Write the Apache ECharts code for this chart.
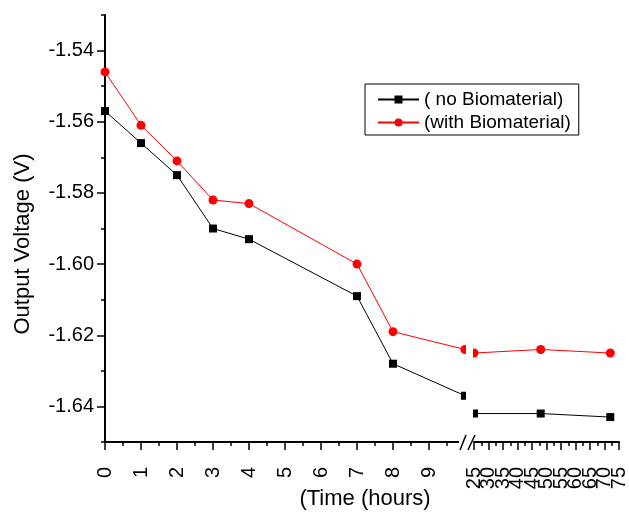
<!DOCTYPE html>
<html>
<head>
<meta charset="utf-8">
<script src="https://cdn.jsdelivr.net/npm/echarts@6/dist/echarts.min.js"></script>
<style>
  html, body { margin: 0; padding: 0; background: #fff; }
  #chart { width: 629px; height: 512px; }
</style>
</head>
<body>
<div id="chart"></div>
<script>
// hours before the axis break and after it
var hoursShort = [0, 1, 2, 3, 4, 7, 8, 10];
var hoursLong = [25, 48, 72];

// output voltage (V)
var noBioShort = [-1.557, -1.566, -1.575, -1.590, -1.593, -1.609, -1.628, -1.637];
var noBioLong = [-1.642, -1.642, -1.643];
var withBioShort = [-1.546, -1.561, -1.571, -1.582, -1.583, -1.600, -1.619, -1.624];
var withBioLong = [-1.625, -1.624, -1.625];

var seriesNames = ['( no Biomaterial)', '(with Biomaterial)'];

// tick positions
var hourTicks = [0, 1, 2, 3, 4, 5, 6, 7, 8, 9];
var hourMinorTicks = [0.5, 1.5, 2.5, 3.5, 4.5, 5.5, 6.5, 7.5, 8.5, 9.5];
// long-hour labels sit very close together, so they are drawn in two alternating sets
var longHourLabelsA = [25, 35, 45, 55, 65, 75];
var longHourLabelsB = [30, 40, 50, 60, 70];
var voltTicks = [-1.64, -1.62, -1.60, -1.58, -1.56, -1.54];
var voltMinorTicks = [-1.65, -1.63, -1.61, -1.59, -1.57, -1.55, -1.53];

function pairs(xs, ys) {
  return xs.map(function (x, i) { return [x, ys[i]]; });
}

var chart = echarts.init(document.getElementById('chart'));

var axisLine = { show: true, lineStyle: { color: '#000', width: 2 } };
var labelStyle = { color: '#000', fontSize: 20, fontFamily: 'Liberation Sans, Arial, sans-serif' };

chart.setOption({
  animation: false,
  backgroundColor: '#fff',
  grid: [
    { left: 105, top: 15, width: 360, height: 427 },
    { left: 474, top: 15, width: 148, height: 427 }
  ],
  legend: {
    data: seriesNames,
    orient: 'vertical',
    left: 365,
    top: 84,
    padding: [6, 8, 3, 12],
    itemGap: 4,
    itemWidth: 41,
    itemHeight: 10,
    borderColor: '#000',
    borderWidth: 1,
    textStyle: { color: '#000', fontSize: 19, fontFamily: 'Liberation Sans, Arial, sans-serif' }
  },
  xAxis: [
    {
      type: 'value', gridIndex: 0, min: 0, max: 10, position: 'bottom',
      axisLine: axisLine,
      splitLine: { show: false },
      axisTick: { show: true, length: 8, customValues: hourTicks, lineStyle: { color: '#000', width: 1.5 } },
      axisLabel: Object.assign({ customValues: hourTicks, rotate: 90, margin: 25 }, labelStyle)
    },
    {
      type: 'value', gridIndex: 0, min: 0, max: 10, position: 'bottom',
      axisLine: { show: false },
      splitLine: { show: false },
      axisTick: { show: true, length: 4, customValues: hourMinorTicks, lineStyle: { color: '#000', width: 1.5 } },
      axisLabel: { show: false }
    },
    {
      type: 'value', gridIndex: 1, min: 25, max: 75, interval: 5, position: 'bottom',
      axisLine: axisLine,
      splitLine: { show: false },
      axisTick: { show: true, length: 8, lineStyle: { color: '#000', width: 1.5 } },
      minorTick: { show: true, splitNumber: 2, length: 4, lineStyle: { color: '#000', width: 1.5 } },
      axisLabel: Object.assign({
        customValues: longHourLabelsA, rotate: 90, margin: 25,
        showMinLabel: true, showMaxLabel: true
      }, labelStyle)
    },
    {
      type: 'value', gridIndex: 1, min: 25, max: 75, position: 'bottom',
      axisLine: { show: false },
      splitLine: { show: false },
      axisTick: { show: false },
      axisLabel: Object.assign({
        customValues: longHourLabelsB, rotate: 90, margin: 25,
        showMinLabel: true, showMaxLabel: true
      }, labelStyle)
    }
  ],
  yAxis: [
    {
      type: 'value', gridIndex: 0, min: -1.65, max: -1.53, position: 'left',
      axisLine: axisLine,
      splitLine: { show: false },
      axisTick: { show: true, length: 8, customValues: voltTicks, lineStyle: { color: '#000', width: 1.5 } },
      axisLabel: Object.assign({
        customValues: voltTicks, margin: 11,
        formatter: function (v) { return v.toFixed(2); }
      }, labelStyle)
    },
    {
      type: 'value', gridIndex: 0, min: -1.65, max: -1.53, position: 'left',
      axisLine: { show: false },
      splitLine: { show: false },
      axisTick: { show: true, length: 4, customValues: voltMinorTicks, lineStyle: { color: '#000', width: 1.5 } },
      axisLabel: { show: false }
    },
    {
      type: 'value', gridIndex: 1, min: -1.65, max: -1.53, show: false
    }
  ],
  series: [
    {
      name: seriesNames[0], type: 'line', xAxisIndex: 0, yAxisIndex: 0,
      data: pairs(hoursShort, noBioShort),
      symbol: 'rect', symbolSize: 8, color: '#000',
      lineStyle: { color: '#000', width: 1 }
    },
    {
      name: seriesNames[0], type: 'line', xAxisIndex: 2, yAxisIndex: 2,
      data: pairs(hoursLong, noBioLong),
      symbol: 'rect', symbolSize: 8, color: '#000',
      lineStyle: { color: '#000', width: 1 }
    },
    {
      name: seriesNames[1], type: 'line', xAxisIndex: 0, yAxisIndex: 0,
      data: pairs(hoursShort, withBioShort),
      symbol: 'circle', symbolSize: 9, color: '#ff0000',
      lineStyle: { color: '#ff0000', width: 1 }
    },
    {
      name: seriesNames[1], type: 'line', xAxisIndex: 2, yAxisIndex: 2,
      data: pairs(hoursLong, withBioLong),
      symbol: 'circle', symbolSize: 9, color: '#ff0000',
      lineStyle: { color: '#ff0000', width: 1 }
    }
  ],
  graphic: [
    // cut the markers and axis line at the break
    { type: 'rect', z: 100, shape: { x: 466, y: 330, width: 7, height: 100 }, style: { fill: '#fff' } },
    { type: 'rect', z: 100, shape: { x: 459, y: 436, width: 14, height: 12 }, style: { fill: '#fff' } },
    { type: 'line', z: 101, shape: { x1: 460, y1: 450, x2: 466, y2: 435 }, style: { stroke: '#000', lineWidth: 1.5 } },
    { type: 'line', z: 101, shape: { x1: 468, y1: 450, x2: 475, y2: 435 }, style: { stroke: '#000', lineWidth: 1.5 } },
    {
      type: 'text', z: 101, x: 23, y: 244, rotation: Math.PI / 2,
      style: { text: 'Output Voltage (V)', fill: '#000', fontSize: 22, fontFamily: 'Liberation Sans, Arial, sans-serif', align: 'center', verticalAlign: 'middle' }
    },
    {
      type: 'text', z: 101, x: 365, y: 499,
      style: { text: '(Time (hours)', fill: '#000', fontSize: 22, fontFamily: 'Liberation Sans, Arial, sans-serif', align: 'center', verticalAlign: 'middle' }
    }
  ]
});
</script>
</body>
</html>
